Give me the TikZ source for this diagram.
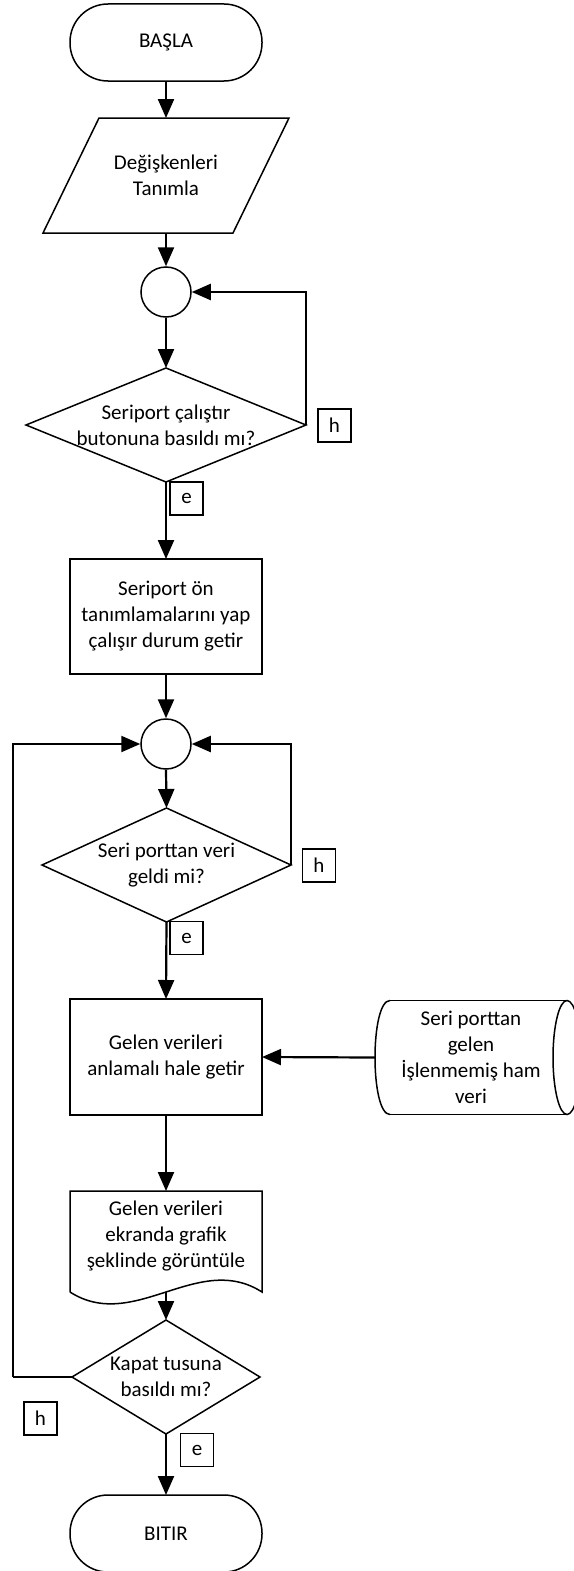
\documentclass[tikz,border=0pt]{standalone}
\usepackage{fontspec}
\setmainfont{Carlito}
\usetikzlibrary{arrows.meta,calc}
\tikzset{
  box/.style={rectangle,inner sep=0pt,outer sep=0pt,align=center,font=\fontsize{21}{26}\selectfont},
  shp/.style={line width=1.5pt,line join=miter},
  conn/.style={line width=2.2pt,-{Triangle[length=19pt,width=16pt]}},
  plain/.style={line width=2.2pt},
  lbl/.style={rectangle,draw,line width=1.5pt,minimum width=33pt,minimum height=33pt,inner sep=0pt,font=\fontsize{21}{26}\selectfont},
  junc/.style={circle,draw,line width=1.5pt,minimum size=50pt,inner sep=0pt}
}
\begin{document}
\begin{tikzpicture}[x=1pt,y=-1pt]
\useasboundingbox (0,0) rectangle (573,1571);
% start
\node[box,draw,shp,rounded corners=38pt,minimum width=192pt,minimum height=77pt] (start) at (166,42.5) {BAŞLA};
% input parallelogram
\node[box,minimum width=190pt,minimum height=115pt] (inp) at (166,175.5) {Değişkenleri\\Tanımla};
\draw[shp] ($(inp.north west)+(28,0)$) -- ($(inp.north east)+(28,0)$) -- ($(inp.south east)+(-28,0)$) -- ($(inp.south west)+(-28,0)$) -- cycle;
% junction 1
\node[junc] (c1) at (166,292) {};
% decision 1
\node[box,minimum width=280pt,minimum height=114pt] (d1) at (166,425) {Seriport çalıştır\\butonuna basıldı mı?};
\draw[shp] (d1.north) -- (d1.east) -- (d1.south) -- (d1.west) -- cycle;
\node[lbl] (h1) at (334.5,425.5) {h};
\node[lbl] (e1) at (186.5,498.5) {e};
% process 1
\node[box,draw,shp,minimum width=192pt,minimum height=115pt] (r1) at (166,616.5) {Seriport ön\\tanımlamalarını yap\\çalışır durum getir};
% junction 2
\node[junc] (c2) at (166,744) {};
% decision 2
\node[box,minimum width=249pt,minimum height=114pt] (d2) at (166.5,865) {Seri porttan veri\\geldi mi?};
\draw[shp] (d2.north) -- (d2.east) -- (d2.south) -- (d2.west) -- cycle;
\node[lbl] (h2) at (319,865.5) {h};
\node[lbl] (e2) at (186.5,938) {e};
% process 2
\node[box,draw,shp,minimum width=192pt,minimum height=116pt] (r2) at (166,1057) {Gelen verileri\\anlamalı hale getir};
% stored data
\node[box,minimum width=192pt,minimum height=114pt] (sto) at (471,1057.5) {Seri porttan\\gelen\\İşlenmemiş ham\\veri};
\draw[shp] ($(sto.north west)+(15,0)$) -- (sto.north east);
\draw[shp] ($(sto.south west)+(15,0)$) -- (sto.south east);
\draw[shp] ($(sto.north west)+(15,0)$) .. controls ($(sto.north west)+(-5,0)$) and ($(sto.south west)+(-5,0)$) .. ($(sto.south west)+(15,0)$);
\draw[shp] (sto.east) ellipse [x radius=14pt, y radius=57pt];
% document
\node[box,minimum width=192pt,minimum height=90pt] (doc) at (166,1236) {Gelen verileri\\ekranda grafik\\şeklinde görüntüle};
\coordinate (docb) at ($(doc.south)+(0,11)$);
\draw[shp] ($(doc.south west)+(0,11)$) -- (doc.north west) -- (doc.north east) -- ($(doc.south east)+(0,11)$)
  .. controls ($(doc.south east)+(-64,-30)$) and ($(doc.south west)+(64,52)$) .. ($(doc.south west)+(0,11)$);
% decision 3
\node[box,minimum width=188pt,minimum height=114pt] (d3) at (166,1377) {Kapat tusuna\\basıldı mı?};
\draw[shp] (d3.north) -- (d3.east) -- (d3.south) -- (d3.west) -- cycle;
\node[lbl] (h3) at (40.5,1418.5) {h};
\node[lbl] (e3) at (197,1450) {e};
% stop
\node[box,draw,shp,rounded corners=38pt,minimum width=192pt,minimum height=77pt] (stop) at (166,1533.5) {BITIR};
% connectors
\draw[conn] (start.south) -- (inp.north);
\draw[conn] (inp.south) -- (c1.north);
\draw[conn] (c1.south) -- (d1.north);
\draw[conn] (d1.east) |- (c1.east);
\draw[conn] (d1.south) -- (r1.north);
\draw[conn] (r1.south) -- (c2.north);
\draw[conn] (c2.south) -- (d2.north);
\draw[conn] (d2.east) |- (c2.east);
\draw[conn] (d2.south) -- (r2.north);
\draw[conn] (sto.west) -- (r2.east);
\draw[conn] (r2.south) -- (doc.north);
\draw[conn] (docb) -- (d3.north);
\coordinate (lp) at (13,1377);
\draw[plain] (d3.west) -- (lp);
\draw[conn] (lp) |- (c2.west);
\draw[conn] (d3.south) -- (stop.north);
\end{tikzpicture}
\end{document}
